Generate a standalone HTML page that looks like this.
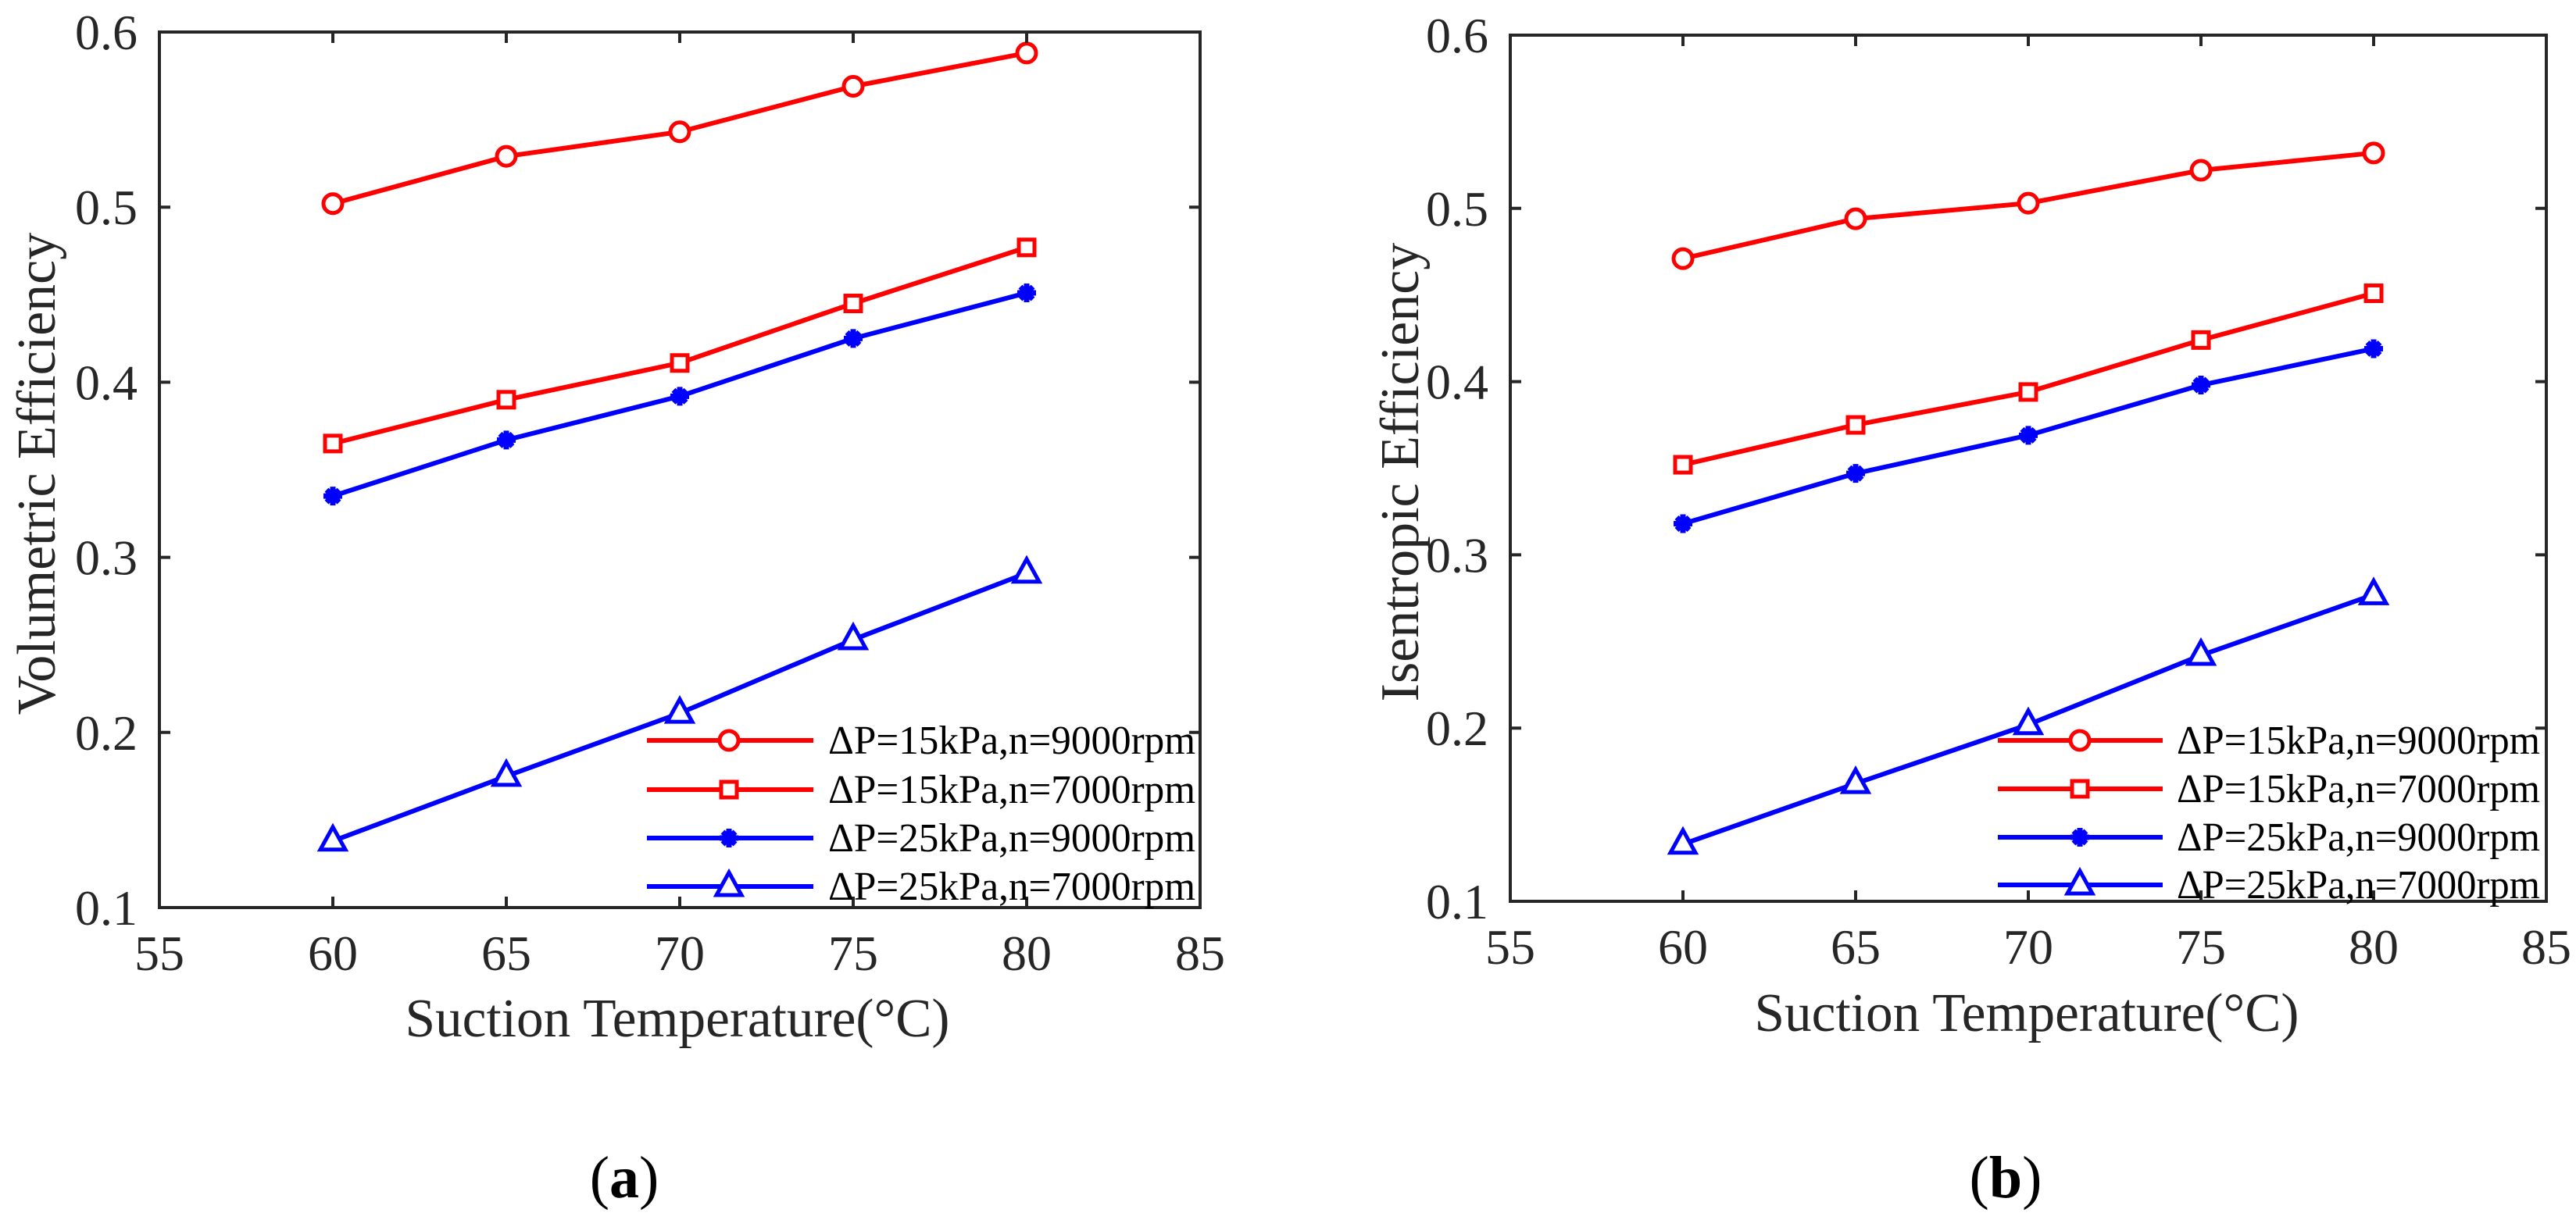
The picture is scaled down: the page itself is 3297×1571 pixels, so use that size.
<!DOCTYPE html>
<html><head><meta charset="utf-8"><style>
html,body{margin:0;padding:0;background:#fff;}
svg{display:block;}
svg text{font-family:"Liberation Serif",serif;}
</style></head><body>
<svg id="fig" width="3297" height="1571" viewBox="0 0 3297 1571" xmlns="http://www.w3.org/2000/svg"></svg>
<script>
const xCats = [60, 65, 70, 75, 80];
const xTicks = [55, 60, 65, 70, 75, 80, 85];
const yTicks = [0.1, 0.2, 0.3, 0.4, 0.5, 0.6];
const seriesNames = ["ΔP=15kPa,n=9000rpm","ΔP=15kPa,n=7000rpm","ΔP=25kPa,n=9000rpm","ΔP=25kPa,n=7000rpm"];
const volC1 = [0.502, 0.529, 0.543, 0.569, 0.588];
const volC2 = [0.365, 0.390, 0.411, 0.445, 0.477];
const volC3 = [0.335, 0.367, 0.392, 0.425, 0.451];
const volC4 = [0.138, 0.175, 0.211, 0.253, 0.291];
const isoC1 = [0.471, 0.494, 0.503, 0.522, 0.532];
const isoC2 = [0.352, 0.375, 0.394, 0.424, 0.451];
const isoC3 = [0.318, 0.347, 0.369, 0.398, 0.419];
const isoC4 = [0.133, 0.168, 0.202, 0.242, 0.277];

const NS="http://www.w3.org/2000/svg";
const svg=document.getElementById('fig');
function mk(tag,attrs,parent){const e=document.createElementNS(NS,tag);for(const k in attrs)e.setAttribute(k,attrs[k]);(parent||svg).appendChild(e);return e;}
const colors=["#ff0000","#ff0000","#0000ff","#0000ff"];
const markers=["circle","square","star","triangle"];
function marker(g,type,x,y,c){
  let m;
  if(type==="circle"){m=mk('circle',{cx:x,cy:y,r:12,fill:'#fff',stroke:c,'stroke-width':5},g);}
  else if(type==="square"){m=mk('rect',{x:x-10,y:y-10,width:20,height:20,fill:'#fff',stroke:c,'stroke-width':5},g);}
  else if(type==="star"){m=mk('path',{d:`M${x-12},${y}H${x+12}M${x},${y-12}V${y+12}M${x-8},${y-8}L${x+8},${y+8}M${x-8},${y+8}L${x+8},${y-8}`,stroke:c,'stroke-width':7,fill:'none'},g);}
  else {m=mk('path',{d:`M${x},${y-18}L${x+16},${y+11}L${x-16},${y+11}Z`,fill:'#fff',stroke:c,'stroke-width':5},g);}
  
  
}
function panel(cfg){
  const {L,R,T,B,data,yTitle,yTitleX,letter,letterX,xTitleX,xTitleY,legX0,legX1,legMX,legTX,legTW,legY,id}=cfg;
  const g=mk('g',{});
  
  
  const xs=v=>L+(v-55)/30*(R-L);
  const ys=v=>B-(v-0.1)/0.5*(B-T);
  data.forEach((arr,si)=>{
    const sg=mk('g',{},g);
    
    
    const pts=arr.map((v,i)=>xs(xCats[i])+','+ys(v)).join(' ');
    const pl=mk('polyline',{points:pts,fill:'none',stroke:colors[si],'stroke-width':6,'stroke-linejoin':'round'},sg);
    
    
    arr.forEach((v,i)=>marker(sg,markers[si],xs(xCats[i]),ys(v),colors[si]));
  });
  const box=mk('rect',{x:L,y:T,width:R-L,height:B-T,fill:'none',stroke:'#262626','stroke-width':4},g);
  
  
  xTicks.forEach(v=>{
    const x=xs(v);
    mk('path',{d:`M${x},${B}V${B-14}M${x},${T}V${T+14}`,stroke:'#262626','stroke-width':4},g);
    const t=mk('text',{x:x,y:B+80,'text-anchor':'middle','font-size':64,fill:'#262626'},g);
    t.textContent=v;
    
    
  });
  yTicks.forEach(v=>{
    const y=ys(v);
    mk('path',{d:`M${L},${y}H${L+14}M${R},${y}H${R-14}`,stroke:'#262626','stroke-width':4},g);
    const t=mk('text',{x:L-28,y:y+22,'text-anchor':'end','font-size':64,fill:'#262626'},g);
    t.textContent=v.toFixed(1);
    
    
  });
  const xt=mk('text',{x:xTitleX,y:xTitleY,'text-anchor':'middle','font-size':70,fill:'#262626',textLength:697,lengthAdjust:'spacingAndGlyphs'},g);
  xt.textContent='Suction Temperature(°C)';
  
  
  const cy=(T+B)/2+5;
  const yt=mk('text',{x:yTitleX,y:cy,'text-anchor':'middle','font-size':70,fill:'#262626',transform:`rotate(-90 ${yTitleX} ${cy})`},g);
  yt.textContent=yTitle;
  
  
  const lt=mk('text',{x:letterX,y:1533,'text-anchor':'middle','font-size':76,fill:'#000'},g);
  lt.innerHTML='(<tspan font-weight="bold">'+letter+'</tspan>)';
  
  
  seriesNames.forEach((n,i)=>{
    const y=legY[i];
    const lg=mk('g',{},g);
    
    
    mk('line',{x1:legX0,x2:legX1,y1:y,y2:y,stroke:colors[i],'stroke-width':6},lg);
    marker(lg,markers[i],legMX,y,colors[i]);
    const t=mk('text',{x:legTX,y:y+17,'font-size':52,fill:'#000',textLength:legTW,lengthAdjust:'spacingAndGlyphs'},lg);
    t.textContent=n;
  });
}
panel({id:'panel-a',L:204,R:1536,T:41,B:1162,data:[volC1,volC2,volC3,volC4],yTitle:'Volumetric Efficiency',yTitleX:70,letter:'a',letterX:799,xTitleX:867,xTitleY:1327,legX0:828,legX1:1041,legMX:933,legTX:1060,legTW:470,legY:[948,1011,1073,1135]});
panel({id:'panel-b',L:1933,R:3259,T:45,B:1154,data:[isoC1,isoC2,isoC3,isoC4],yTitle:'Isentropic Efficiency',yTitleX:1815,letter:'b',letterX:2567,xTitleX:2594,xTitleY:1320,legX0:2557,legX1:2768,legMX:2662,legTX:2786,legTW:465,legY:[948,1010,1072,1133]});
</script>
</body></html>
